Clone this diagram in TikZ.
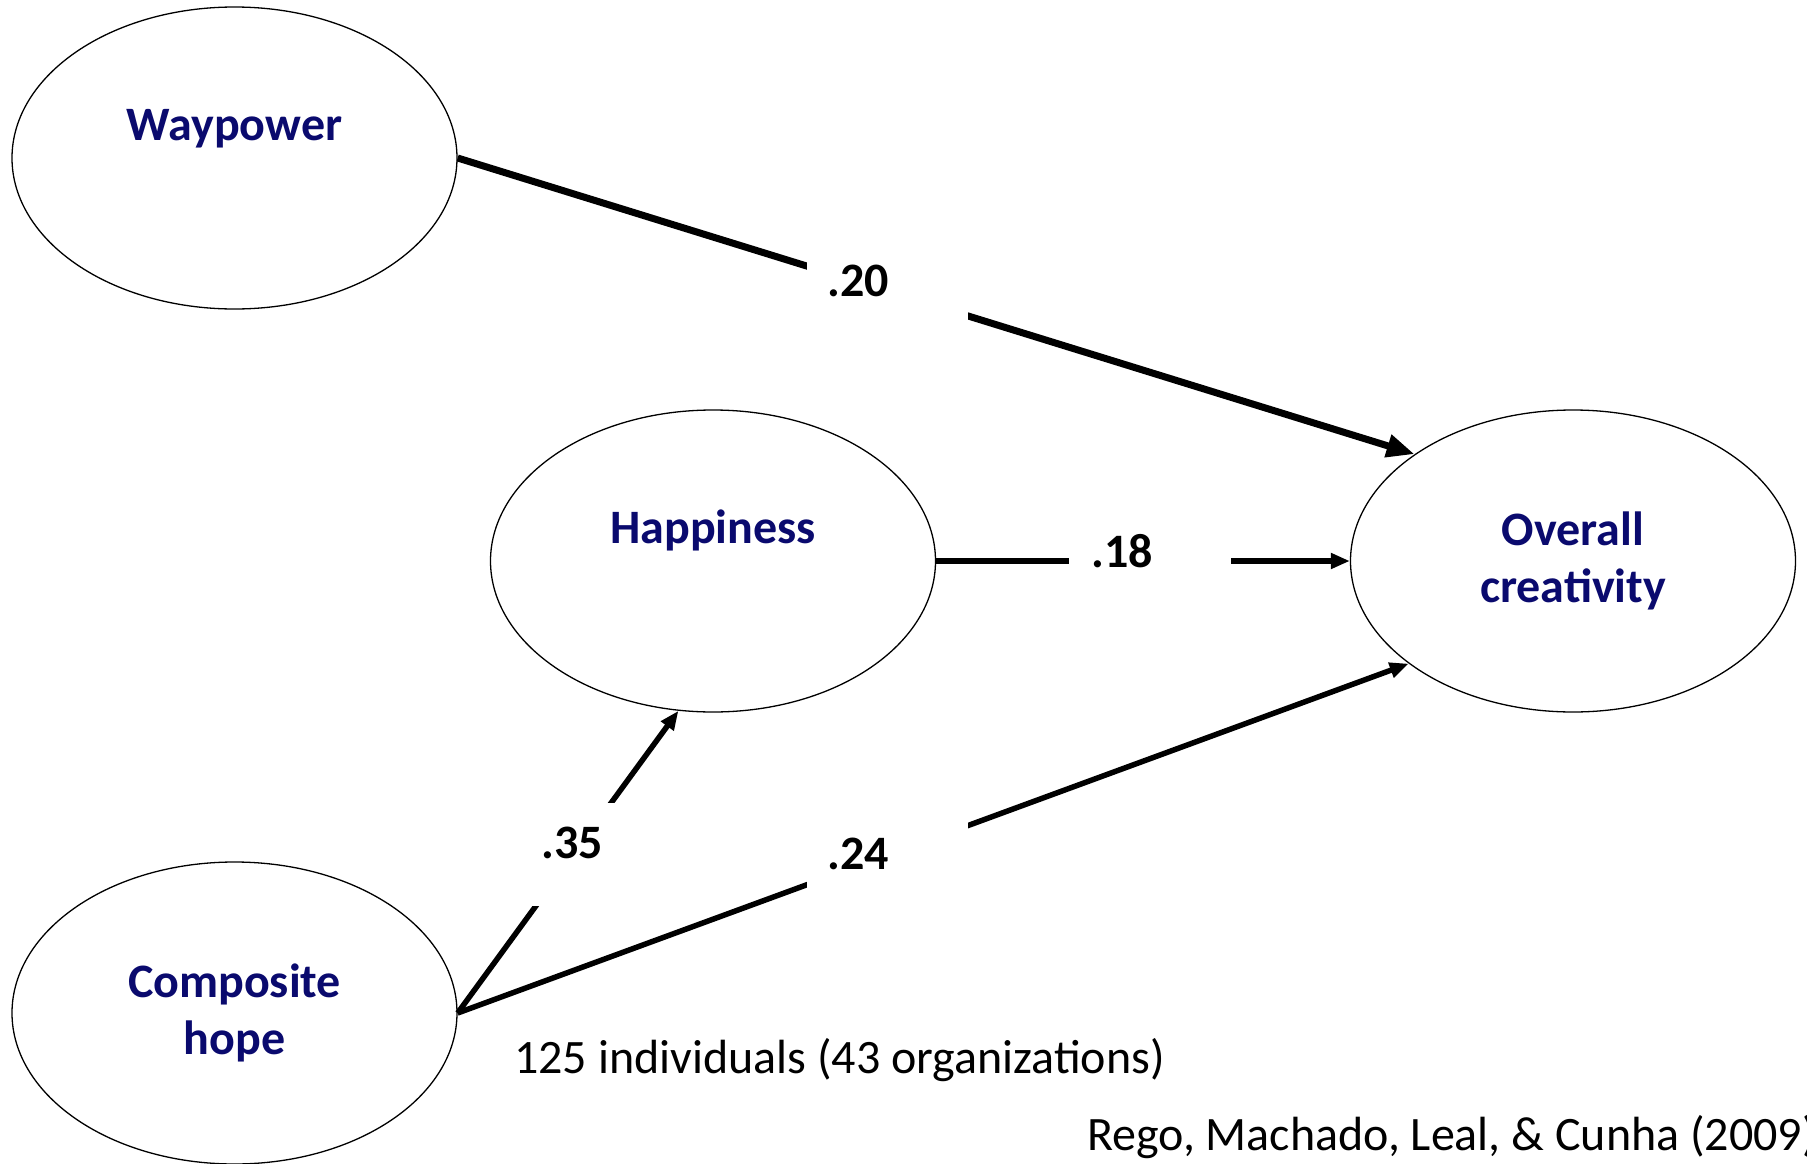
\documentclass[tikz,border=0pt]{standalone}
\usepackage{fontspec}
\setmainfont{Carlito}
\usetikzlibrary{shapes.geometric,arrows.meta}
\definecolor{navytext}{RGB}{10,10,110}
\begin{document}
\begin{tikzpicture}[x=1pt,y=-1pt,
  latent/.style={ellipse, draw=black, line width=1.3pt, minimum width=445pt, minimum height=302pt,
    inner sep=0pt, text=navytext, font=\bfseries\fontsize{48}{57}\selectfont, align=center},
  lvtext/.style={text=navytext, font=\bfseries\fontsize{48}{57}\selectfont, inner sep=0pt},
  thickpath/.style={line width=7pt, -{Triangle[length=28pt,width=22pt]}},
  midpath/.style={line width=5.5pt, -{Triangle[length=19pt,width=15pt]}},
  gapmask/.style={fill=white, draw=none, inner sep=0pt},
  coef/.style={font=\bfseries\fontsize{48}{57}\selectfont, text=black, inner sep=0pt},
  note/.style={font=\fontsize{48}{57}\selectfont, text=black, inner sep=0pt}]
\useasboundingbox (0,0) rectangle (1807,1164);
\fill[white] (0,0) rectangle (1807,1164);

% latent variables
\node[latent] (w) at (234.5,158) {};
\node[lvtext, anchor=base] (wt) at (234.5,140) {Waypower};
\node[latent] (h) at (713,561) {};
\node[lvtext, anchor=base] (ht) at (713,543) {Happiness};
\node[latent] (oc) at (1573,561) {Overall\\creativity};
\node[latent] (ch) at (234.5,1013) {Composite\\hope};

% paths
\draw[thickpath] (w.east) -- (oc.146.6);
\draw[midpath] (h.east) -- (oc.west);
\draw[midpath] (ch.east) -- (h.257.75);
\draw[midpath] (ch.east) -- (oc.212.4);

% gaps in the paths
\node[gapmask, minimum width=161pt, minimum height=100pt] (m1) at (887.5,292) {};
\node[gapmask, minimum width=162pt, minimum height=40pt] (m2) at (1150,561) {};
\node[gapmask, minimum width=120pt, minimum height=103pt] (m3) at (575,854.5) {};
\node[gapmask, minimum width=161pt, minimum height=100pt] (m4) at (887.5,856) {};

% coefficients
\node[coef] (l20) at (858,281) {.20};
\node[coef] (l18) at (1122,551) {.18};
\node[coef] (l35) at (572,843) {.35};
\node[coef] (l24) at (858,854) {.24};

% notes
\node[note, anchor=west] (n1) at (514,1060) {125 individuals (43 organizations)};
\node[note, anchor=west] (n2) at (1087,1137) {Rego, Machado, Leal, \& Cunha (2009)};
\end{tikzpicture}
\end{document}
